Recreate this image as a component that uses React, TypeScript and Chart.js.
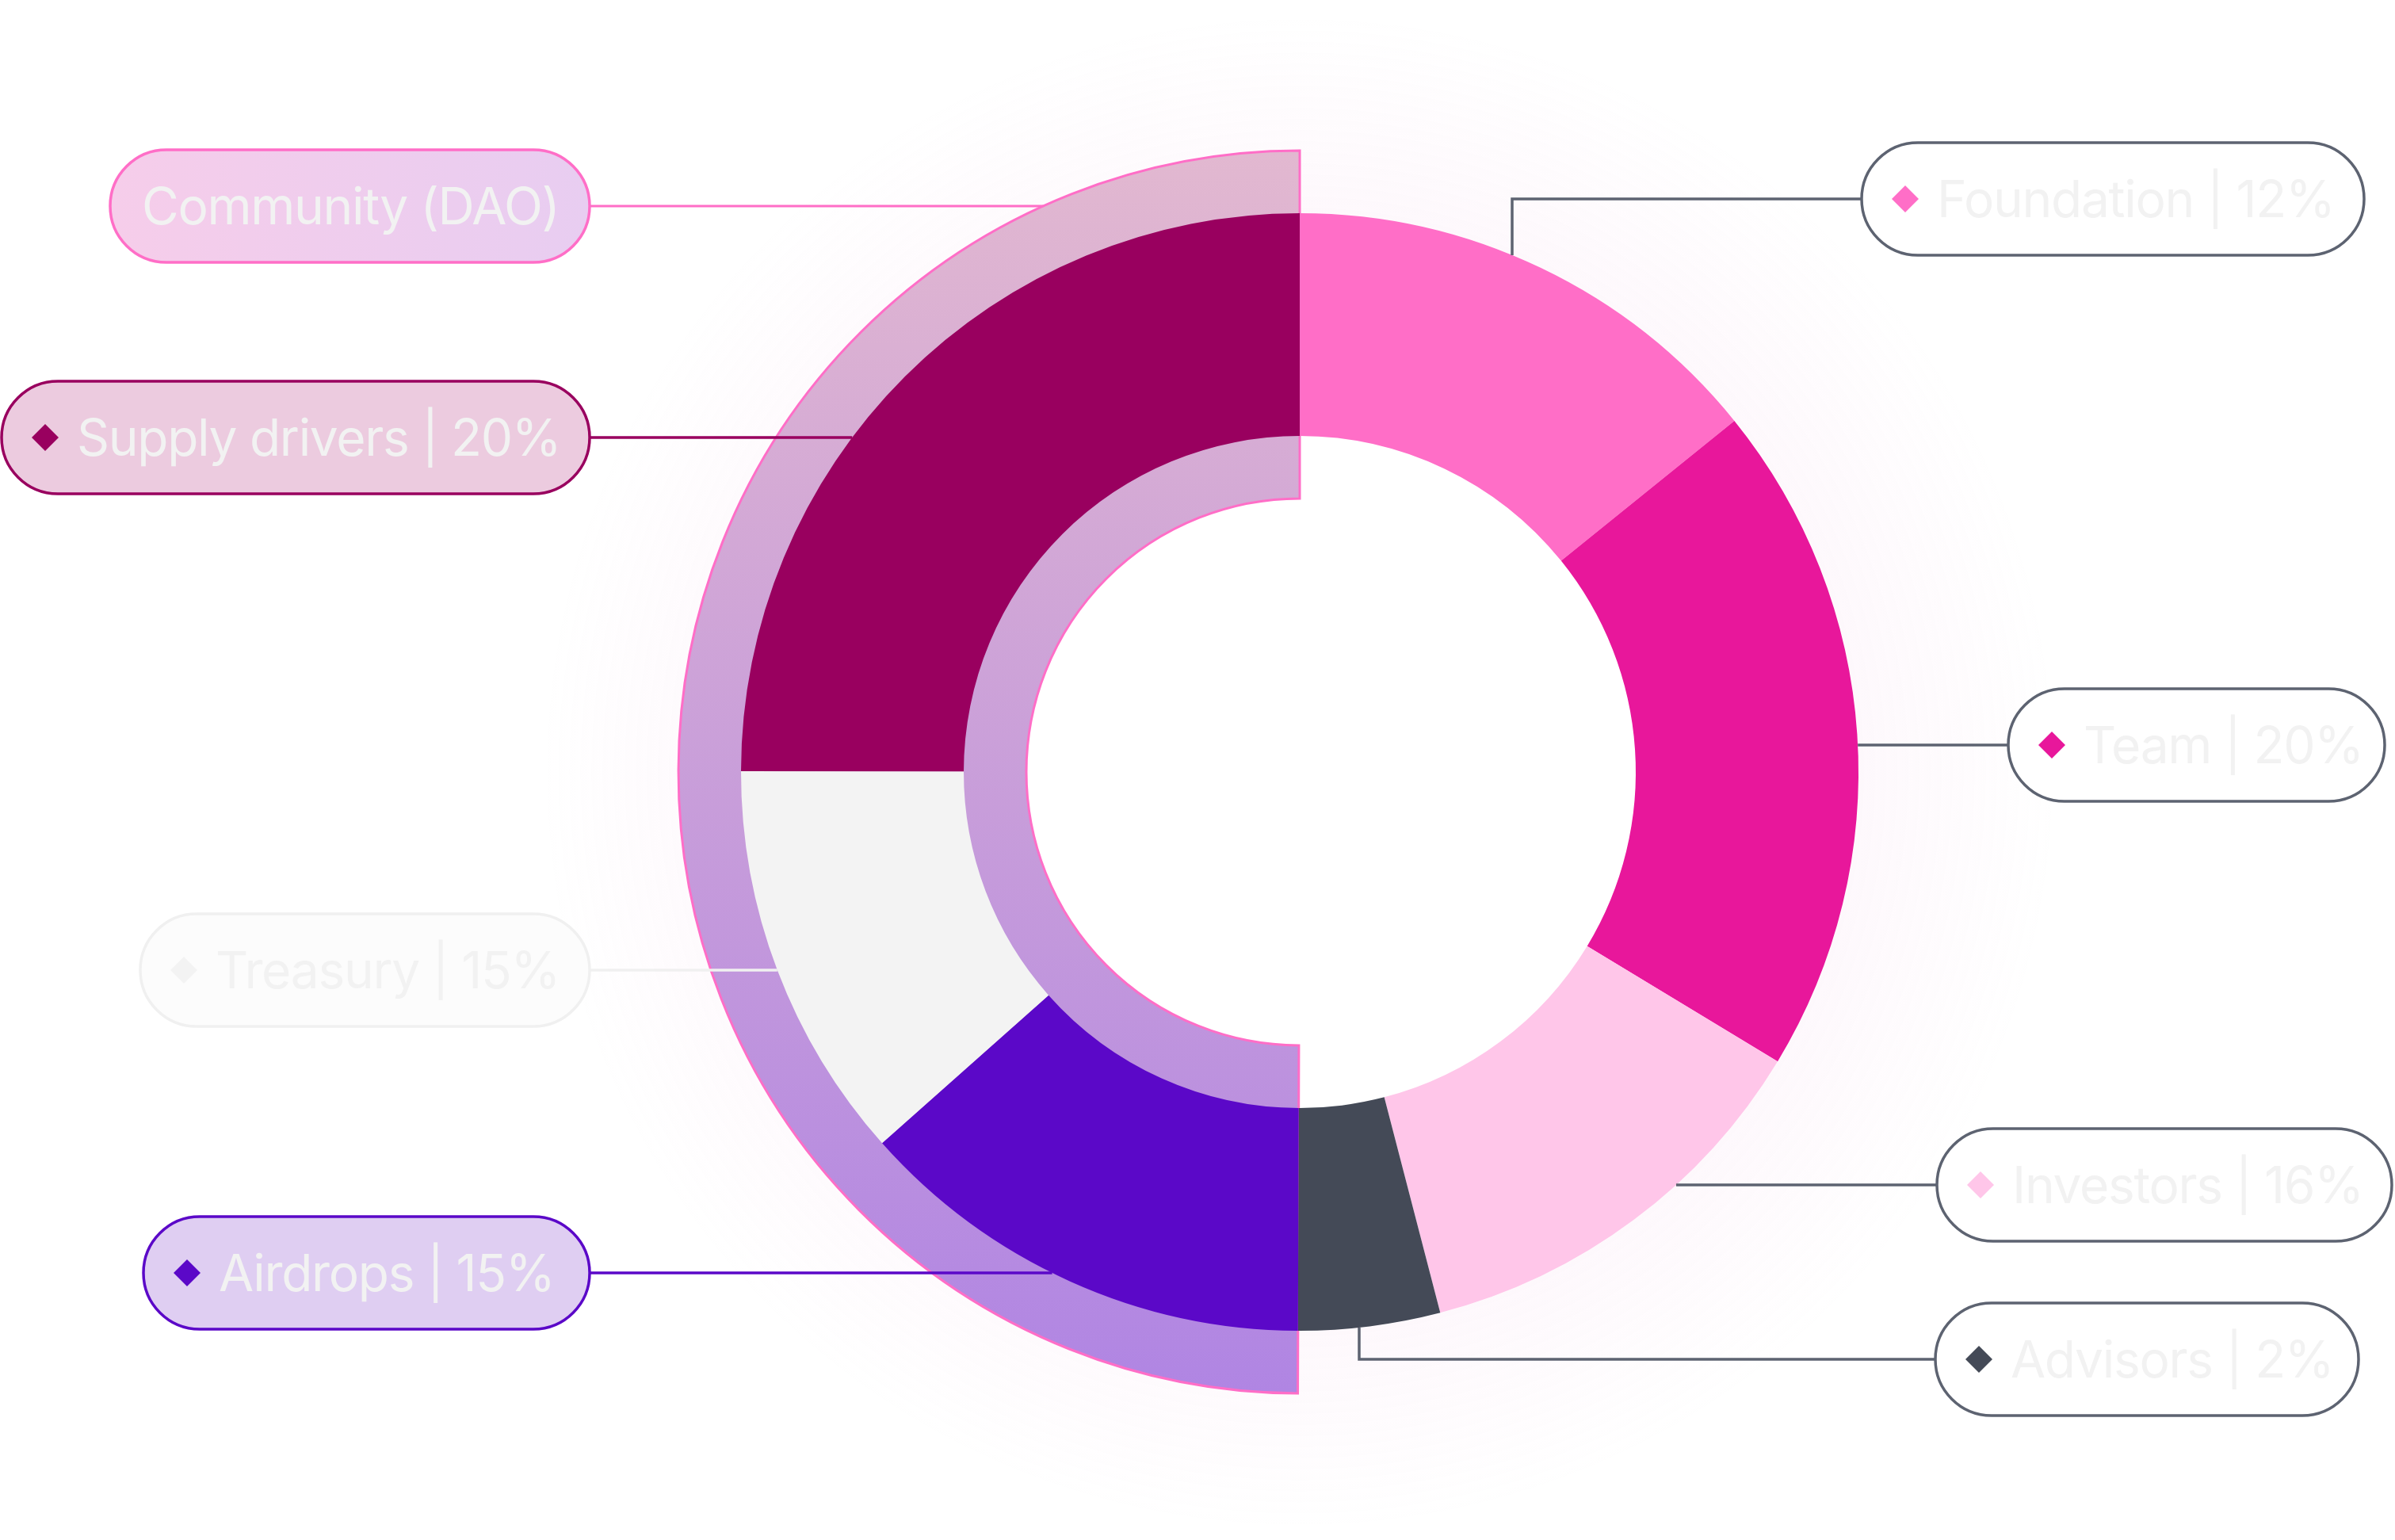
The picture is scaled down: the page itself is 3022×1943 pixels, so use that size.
import React, { useEffect, useRef } from 'react';
import { Chart, registerables } from 'chart.js';

Chart.register(...registerables);

// ---------- data ----------
const categories = ['Foundation', 'Team', 'Investors', 'Advisors', 'Airdrops', 'Treasury', 'Supply drivers'];
const sliceValues = [14.2, 19.5, 12.3, 4.1, 13.4, 11.6, 25];
const labelPercents = [12, 20, 16, 2, 15, 15, 20];
const sliceColors = ['#ff6ec7', '#e8179b', '#ffc6e9', '#444a57', '#5b08c8', '#f3f3f3', '#99005f'];
const groupName = 'Community (DAO)';
const groupMembers = ['Airdrops', 'Treasury', 'Supply drivers'];

// ---------- layout ----------
const W = 3022;
const H = 1943;
const FONT = '400 64px Inter, "Noto Sans", sans-serif';
const LETTER_SPACING = '-1.3px';
const TEXT_COLOR = '#f2f2f2';
const PILL_H = 142;

type Lbl = {
  x0: number; x1: number; cy: number; side: 'left' | 'right';
  fill: string; stroke: string; line: string; elbowX?: number;
};
const labelLayout: Record<string, Lbl> = {
  Foundation: { x0: 2349, x1: 2983, cy: 251, side: 'right', fill: '#ffffff', stroke: '#5d6371', line: '#5d6371', elbowX: 1908 },
  Team: { x0: 2534, x1: 3009, cy: 940, side: 'right', fill: '#ffffff', stroke: '#5d6371', line: '#5d6371' },
  Investors: { x0: 2444, x1: 3018, cy: 1495, side: 'right', fill: '#ffffff', stroke: '#5d6371', line: '#5d6371' },
  Advisors: { x0: 2442, x1: 2976, cy: 1715, side: 'right', fill: '#ffffff', stroke: '#5d6371', line: '#5d6371', elbowX: 1715 },
  Airdrops: { x0: 181, x1: 744, cy: 1606, side: 'left', fill: '#dfcef2', stroke: '#5b08c8', line: '#5b08c8' },
  Treasury: { x0: 177, x1: 744, cy: 1224, side: 'left', fill: '#fcfcfc', stroke: '#f0f0f0', line: '#f0f0f0' },
  'Supply drivers': { x0: 2, x1: 744, cy: 552, side: 'left', fill: '#eccbdf', stroke: '#99005f', line: '#99005f' },
};
const groupLayout = { x0: 139, x1: 744, cy: 260 };

function pillPath(ctx: CanvasRenderingContext2D, x0: number, x1: number, cy: number, h: number) {
  const r = h / 2;
  ctx.beginPath();
  ctx.moveTo(x0 + r, cy - r);
  ctx.lineTo(x1 - r, cy - r);
  ctx.arc(x1 - r, cy, r, -Math.PI / 2, Math.PI / 2);
  ctx.lineTo(x0 + r, cy + r);
  ctx.arc(x0 + r, cy, r, Math.PI / 2, (3 * Math.PI) / 2);
  ctx.closePath();
}

function geom(chart: any) {
  const arc = chart.getDatasetMeta(0).data[0];
  const cx = arc.x, cy = arc.y, R = arc.outerRadius, r = arc.innerRadius;
  const total = sliceValues.reduce((a, b) => a + b, 0);
  const startIdx = categories.indexOf(groupMembers[0]);
  let before = 0;
  for (let i = 0; i < startIdx; i++) before += sliceValues[i];
  let gsum = 0;
  groupMembers.forEach((m) => (gsum += sliceValues[categories.indexOf(m)]));
  const a0 = -Math.PI / 2 + (2 * Math.PI * before) / total;
  const a1 = a0 + (2 * Math.PI * gsum) / total;
  return { cx, cy, R, r, a0, a1, Ro: R * 1.112, Ri: r * 0.8137 };
}

const overlayPlugin = {
  id: 'communityOverlay',
  beforeDatasetsDraw(chart: any) {
    const ctx: CanvasRenderingContext2D = chart.ctx;
    const { cx, cy, R, Ro, Ri, a0, a1 } = geom(chart);
    // soft glow around the ring
    ctx.save();
    const outer = Ro * 1.22;
    const rg = ctx.createRadialGradient(cx, cy, R, cx, cy, outer);
    rg.addColorStop(0, 'rgba(236,160,215,0.07)');
    rg.addColorStop(1, 'rgba(236,160,215,0)');
    ctx.beginPath();
    ctx.arc(cx, cy, outer, 0, Math.PI * 2);
    ctx.arc(cx, cy, R, 0, Math.PI * 2, true);
    ctx.fillStyle = rg;
    ctx.fill('evenodd');
    ctx.restore();
    // gradient half band
    ctx.save();
    const g = ctx.createLinearGradient(0, cy - Ro, 0, cy + Ro);
    g.addColorStop(0, '#e2b8d0');
    g.addColorStop(1, '#b085e3');
    ctx.beginPath();
    ctx.arc(cx, cy, Ro, a0, a1, false);
    ctx.arc(cx, cy, Ri, a1, a0, true);
    ctx.closePath();
    ctx.fillStyle = g;
    ctx.fill();
    ctx.strokeStyle = '#ff6ec7';
    ctx.lineWidth = 3;
    ctx.stroke();
    ctx.restore();
  },
  afterDatasetsDraw(chart: any) {
    const ctx: CanvasRenderingContext2D = chart.ctx;
    const { cx, cy, R, Ro } = geom(chart);
    ctx.save();
    ctx.font = FONT;
    try { (ctx as any).letterSpacing = LETTER_SPACING; } catch (e) {}
    ctx.textBaseline = 'alphabetic';
    ctx.textAlign = 'left';
    ctx.lineWidth = 3.5;

    // group label (Community)
    {
      const gl = groupLayout;
      const dy = gl.cy - cy;
      const ex = cx - Math.sqrt(Math.max(Ro * Ro - dy * dy, 0));
      ctx.strokeStyle = '#ff6ec7';
      ctx.lineWidth = 3;
      ctx.beginPath();
      ctx.moveTo(gl.x1, gl.cy);
      ctx.lineTo(ex, gl.cy);
      ctx.stroke();
      const grad = ctx.createLinearGradient(gl.x0, 0, gl.x1, 0);
      grad.addColorStop(0, '#f6cdea');
      grad.addColorStop(1, '#e8cdf1');
      pillPath(ctx, gl.x0, gl.x1, gl.cy, PILL_H);
      ctx.fillStyle = grad;
      ctx.fill();
      ctx.lineWidth = 3.5;
      ctx.strokeStyle = '#ff6ec7';
      ctx.stroke();
      ctx.fillStyle = TEXT_COLOR;
      ctx.fillText(groupName, gl.x0 + 40, gl.cy + 23);
    }

    categories.forEach((name, i) => {
      const L = labelLayout[name];
      if (!L) return;
      ctx.strokeStyle = L.line;
      ctx.lineWidth = 3.5;
      ctx.beginPath();
      if (L.side === 'left') {
        const dy = L.cy - cy;
        const ex = cx - Math.sqrt(Math.max(R * R - dy * dy, 0));
        ctx.moveTo(L.x1, L.cy);
        ctx.lineTo(ex, L.cy);
      } else if (L.elbowX !== undefined) {
        const dx = L.elbowX - cx;
        const sgn = L.cy < cy ? -1 : 1;
        const ey = cy + sgn * Math.sqrt(Math.max(R * R - dx * dx, 0));
        ctx.moveTo(L.x0, L.cy);
        ctx.lineTo(L.elbowX, L.cy);
        ctx.lineTo(L.elbowX, ey);
      } else {
        const dy = L.cy - cy;
        const ex = cx + Math.sqrt(Math.max(R * R - dy * dy, 0));
        ctx.moveTo(L.x0, L.cy);
        ctx.lineTo(ex, L.cy);
      }
      ctx.stroke();

      pillPath(ctx, L.x0, L.x1, L.cy, PILL_H);
      ctx.fillStyle = L.fill;
      ctx.fill();
      ctx.strokeStyle = L.stroke;
      ctx.stroke();

      // diamond marker
      const dxm = L.x0 + 55;
      const d = 17;
      ctx.beginPath();
      ctx.moveTo(dxm, L.cy - d);
      ctx.lineTo(dxm + d, L.cy);
      ctx.lineTo(dxm, L.cy + d);
      ctx.lineTo(dxm - d, L.cy);
      ctx.closePath();
      ctx.fillStyle = sliceColors[i];
      ctx.fill();

      ctx.fillStyle = TEXT_COLOR;
      ctx.fillText(`${name} | ${labelPercents[i]}%`, L.x0 + 95, L.cy + 23);
    });
    ctx.restore();
  },
};

export default function App() {
  const ref = useRef<HTMLCanvasElement | null>(null);
  useEffect(() => {
    document.body.style.margin = '0';
    document.body.style.background = '#ffffff';
    if (!ref.current) return;
    const chart = new Chart(ref.current, {
      type: 'doughnut',
      data: {
        labels: categories,
        datasets: [
          {
            data: sliceValues,
            backgroundColor: sliceColors,
            borderWidth: 0,
          },
        ],
      },
      options: {
        responsive: false,
        animation: false,
        cutout: '60.14%',
        layout: { padding: { left: 935, right: 677, top: 269, bottom: 264 } },
        plugins: {
          legend: { display: false },
          tooltip: { enabled: false },
        },
        events: [],
      },
      plugins: [overlayPlugin],
    });
    if ((document as any).fonts && (document as any).fonts.load) {
      (document as any).fonts.load(FONT).then(() => chart.draw()).catch(() => {});
    }
    return () => chart.destroy();
  }, []);
  return (
    <div style={{ position: 'fixed', left: 0, top: 0, width: W, height: H, background: '#fff' }}>
      <canvas ref={ref} width={W} height={H} style={{ width: W, height: H, display: 'block' }} />
    </div>
  );
}
